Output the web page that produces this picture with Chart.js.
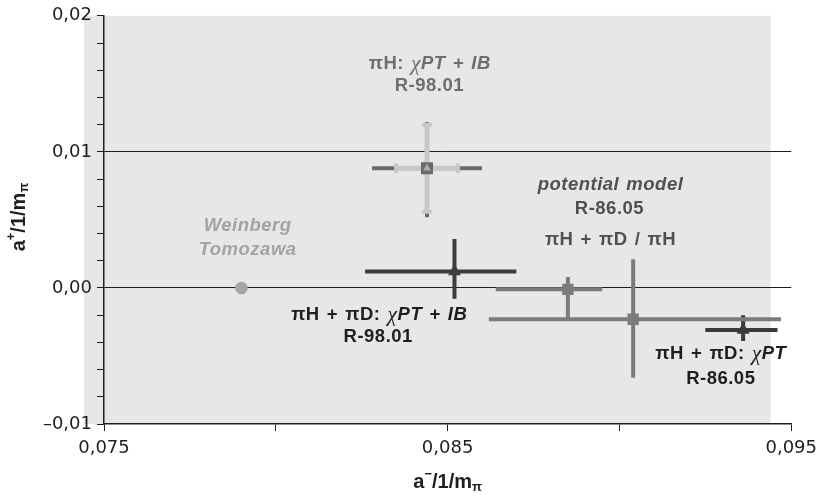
<!DOCTYPE html>
<html>
<head>
<meta charset="utf-8">
<script src="https://cdn.jsdelivr.net/npm/chart.js@4.4.1/dist/chart.umd.min.js"></script>
<style>
html, body { margin: 0; padding: 0; background: #fff; }
#wrap { width: 824px; height: 498px; }
</style>
</head>
<body>
<div id="wrap"><canvas id="myChart" width="824" height="498"></canvas></div>
<script>
// measurements: a- (x) and a+ (y), in units of 1/m_pi
const pointNames = ['Weinberg-Tomozawa', 'piH chiPT+IB', 'piH+piD chiPT+IB', 'pot. model piH+piD', 'pot. model piH', 'piH+piD chiPT'];
const aMinus     = [0.0790, 0.0844, 0.0852, 0.0885, 0.0904, 0.0936];
const aPlus      = [0.0000, 0.0088, 0.0012, -0.0001, -0.0023, -0.0031];
const aMinusLow  = [null, 0.0828, 0.0826, 0.0864, 0.0862, 0.0925];
const aMinusHigh = [null, 0.0860, 0.0870, 0.0895, 0.0947, 0.0946];
const aPlusLow   = [null, 0.0052, -0.0008, -0.0023, -0.0066, -0.0039];
const aPlusHigh  = [null, 0.0122, 0.0036, 0.0008, 0.0021, -0.0020];
// inner (light) error bars of the piH point
const innerMinus = [0.0835, 0.0853];
const innerPlus  = [0.0056, 0.0120];

const xTicks = [0.075, 0.085, 0.095];
const yTicks = [-0.01, 0.00, 0.01, 0.02];

const markerStyle = ['circle', 'rect', 'triangle', 'rect', 'rect', 'triangle'];
const markerSize  = [6.3, 8.5, 7.5, 8, 8, 7.5];
const markerColor = ['#a6a6a6', '#6a6a6a', '#3d3d3d', '#7b7b7b', '#7b7b7b', '#3a3a3a'];
const barColor    = [null, '#6a6a6a', '#3d3d3d', '#7b7b7b', '#7b7b7b', '#3a3a3a'];
const lightColor  = '#c8c8c8';

const FONT = '"Liberation Sans", Arial, sans-serif';
const TICKFONT = '"DejaVu Sans", sans-serif';

const datasets = [];
// small triangle inside the piH square
datasets.push({
    data: [{x: aMinus[1], y: aPlus[1]}],
    pointStyle: 'triangle', pointRadius: 4.5,
    backgroundColor: '#b0b0b0', borderWidth: 0
});
datasets.push({
    data: aMinus.map((x, i) => ({x: x, y: aPlus[i]})),
    pointStyle: markerStyle, pointRadius: markerSize,
    backgroundColor: markerColor, borderWidth: 0
});
// light bars with caps
datasets.push({
    type: 'line', showLine: true,
    data: [{x: innerMinus[0], y: aPlus[1]}, {x: innerMinus[1], y: aPlus[1]}],
    borderColor: lightColor, borderWidth: 5,
    pointStyle: 'line', pointRadius: 5, pointRotation: 90,
    pointBorderColor: lightColor, pointBorderWidth: 4
});
datasets.push({
    type: 'line', showLine: true,
    data: [{x: aMinus[1], y: innerPlus[0]}, {x: aMinus[1], y: innerPlus[1]}],
    borderColor: lightColor, borderWidth: 5,
    pointStyle: 'line', pointRadius: 5, pointRotation: 0,
    pointBorderColor: lightColor, pointBorderWidth: 4
});
// plain error bars
for (let i = 1; i < aMinus.length; i++) {
    datasets.push({
        type: 'line', showLine: true,
        data: [{x: aMinusLow[i], y: aPlus[i]}, {x: aMinusHigh[i], y: aPlus[i]}],
        borderColor: barColor[i], borderWidth: 4, pointRadius: 0
    });
    datasets.push({
        type: 'line', showLine: true,
        data: [{x: aMinus[i], y: aPlusLow[i]}, {x: aMinus[i], y: aPlusHigh[i]}],
        borderColor: barColor[i], borderWidth: 4, pointRadius: 0
    });
}

// text blocks, anchored in data coordinates
const notes = [
    {x: 0.08448, y: 0.01644, color: '#6e6e6e', parts: [['πH: ', 'b'], ['χ', 'g'], ['PT + IB', 'bi']]},
    {x: 0.08447, y: 0.01484, color: '#6e6e6e', parts: [['R-98.01', 'b']]},
    {x: 0.07918, y: 0.00457, color: '#a3a3a3', parts: [['Weinberg', 'bi']]},
    {x: 0.07918, y: 0.00282, color: '#a3a3a3', parts: [['Tomozawa', 'bi']]},
    {x: 0.08974, y: 0.00755, color: '#505050', parts: [['potential model', 'bi']]},
    {x: 0.08971, y: 0.00580, color: '#505050', parts: [['R-86.05', 'b']]},
    {x: 0.08974, y: 0.00355, color: '#505050', parts: [['πH + πD / πH', 'b']]},
    {x: 0.08301, y: -0.00199, color: '#1e1e1e', parts: [['πH + πD: ', 'b'], ['χ', 'g'], ['PT + IB', 'bi']]},
    {x: 0.08298, y: -0.00359, color: '#1e1e1e', parts: [['R-98.01', 'b']]},
    {x: 0.09295, y: -0.00486, color: '#1e1e1e', parts: [['πH + πD: ', 'b'], ['χ', 'g'], ['PT', 'bi']]},
    {x: 0.09295, y: -0.00665, color: '#1e1e1e', parts: [['R-86.05', 'b']]}
];

function fontFor(kind, size) {
    if (kind === 'g') return 'italic ' + (size + 3) + 'px "Liberation Serif", serif';
    if (kind === 'bi') return 'italic bold ' + size + 'px ' + FONT;
    if (kind === 'b') return 'bold ' + size + 'px ' + FONT;
    return size + 'px ' + FONT;
}

function drawParts(ctx, parts, cx, cy, size) {
    let w = 0;
    parts.forEach(p => { ctx.font = fontFor(p[1], size); w += ctx.measureText(p[0]).width; });
    let x = cx - w / 2;
    ctx.textBaseline = 'middle';
    ctx.textAlign = 'left';
    parts.forEach(p => {
        ctx.font = fontFor(p[1], size);
        ctx.fillText(p[0], x, cy);
        x += ctx.measureText(p[0]).width;
    });
}

// a title like a^+/1/m_pi
function drawTitle(ctx, sup, cx, cy) {
    const segs = [['a', 20, 0], [sup, 13, -8], ['/1/m', 20, 0], ['π', 13, 5]];
    let w = 0;
    segs.forEach(s => { ctx.font = 'bold ' + s[1] + 'px ' + FONT; w += ctx.measureText(s[0]).width; });
    let x = cx - w / 2;
    ctx.textBaseline = 'middle';
    ctx.textAlign = 'left';
    segs.forEach(s => {
        ctx.font = 'bold ' + s[1] + 'px ' + FONT;
        ctx.fillText(s[0], x, cy + s[2]);
        x += ctx.measureText(s[0]).width;
    });
}

const decor = {
    id: 'decor',
    beforeDraw(chart) {
        const ctx = chart.ctx, a = chart.chartArea;
        const right = chart.scales.x.getPixelForValue(0.0944);
        ctx.save();
        ctx.fillStyle = '#e6e7e9';
        ctx.fillRect(a.left - 20, a.top, right - a.left + 20, a.bottom - a.top);
        ctx.restore();
    },
    afterDatasetsDraw(chart) {
        const ctx = chart.ctx, xs = chart.scales.x, ys = chart.scales.y;
        ctx.save();
        ctx.letterSpacing = '0.5px';
        ctx.wordSpacing = '1.5px';
        notes.forEach(n => {
            ctx.fillStyle = n.color;
            drawParts(ctx, n.parts, xs.getPixelForValue(n.x), ys.getPixelForValue(n.y), 18.5);
        });
        ctx.letterSpacing = '0px';
        ctx.wordSpacing = '0px';
        ctx.fillStyle = '#1e1e1e';
        drawTitle(ctx, '−', (chart.chartArea.left + chart.chartArea.right) / 2, 482);
        ctx.translate(19, 217);
        ctx.rotate(-Math.PI / 2);
        drawTitle(ctx, '+', 0, 0);
        ctx.restore();
    }
};

const ctx = document.getElementById('myChart').getContext('2d');
const myChart = new Chart(ctx, {
    type: 'scatter',
    data: { datasets: datasets },
    options: {
        responsive: false,
        animation: false,
        devicePixelRatio: 1,
        layout: { padding: { left: 0, right: 28, top: 12, bottom: 0 } },
        plugins: { legend: { display: false }, tooltip: { enabled: false } },
        events: [],
        scales: {
            x: {
                type: 'linear', min: 0.075, max: 0.095,
                afterFit: s => { s.height = 74; },
                ticks: {
                    stepSize: 0.005, color: '#1e1e1e', padding: 7,
                    font: { family: TICKFONT, size: 18 },
                    callback: v => xTicks.some(t => Math.abs(t - v) < 1e-9) ? v.toFixed(3).replace('.', ',') : ''
                },
                grid: { drawOnChartArea: false, tickLength: 7, tickColor: '#1e1e1e' },
                border: { color: '#1e1e1e', width: 1.5 }
            },
            y: {
                type: 'linear', min: -0.01, max: 0.02,
                afterFit: s => { s.width = 104; },
                ticks: {
                    stepSize: 0.002, color: '#1e1e1e', padding: 5,
                    font: { family: TICKFONT, size: 18 },
                    callback: v => yTicks.some(t => Math.abs(t - v) < 1e-9) ? (Math.abs(v) < 1e-9 ? '0,00' : v.toFixed(2).replace('.', ',').replace('-', '–')) : ''
                },
                grid: {
                    tickLength: 7, tickColor: '#1e1e1e', lineWidth: 1,
                    color: c => (Math.abs(c.tick.value) < 1e-9 || Math.abs(c.tick.value - 0.01) < 1e-9) ? '#1e1e1e' : 'rgba(0,0,0,0)'
                },
                border: { color: '#1e1e1e', width: 1.5 }
            }
        }
    },
    plugins: [decor]
});
</script>
</body>
</html>
